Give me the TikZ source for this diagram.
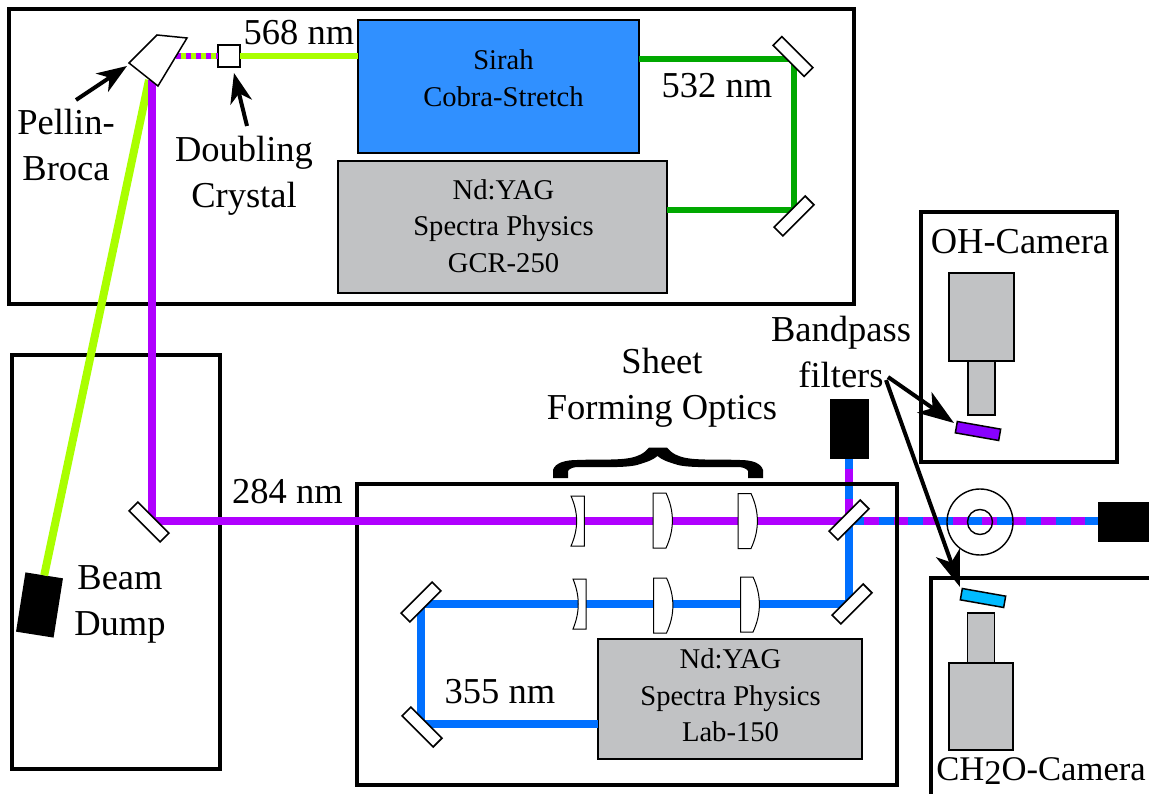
\documentclass[tikz,border=0pt]{standalone}
\usepackage{fontspec}
\setmainfont{Liberation Serif}
\usetikzlibrary{arrows.meta,shapes.geometric}
\definecolor{cpurple}{HTML}{B000FF}
\definecolor{cblue}{HTML}{0070FF}
\definecolor{cyellow}{HTML}{AAFF00}
\definecolor{cgreen}{HTML}{00A800}
\definecolor{cgrey}{HTML}{C1C2C4}
\definecolor{csirah}{HTML}{3090FF}
\definecolor{cfiltp}{HTML}{8800FF}
\definecolor{cfiltb}{HTML}{00BBFF}
\newcommand{\convexlens}[4]{% left x, mid x, apex x, top y
  \draw[lens] (#1,#4) -- (#2,#4) .. controls (#3,#4+18) and (#3,#4+37) .. (#2,#4+55) -- (#1,#4+55) -- cycle;}
\newcommand{\concavelens}[4]{% left x, right x, mid x, top y
  \draw[lens] (#1,#4) -- (#2,#4) -- (#2,#4+50) -- (#1,#4+50) .. controls (#3,#4+33) and (#3,#4+17) .. cycle;}
\tikzset{
  frame/.style={draw=black,line width=3.8pt,fill=none,inner sep=0pt,outer sep=0pt},
  mirror/.style={draw=black,line width=1.6pt,fill=white,minimum width=44pt,minimum height=12.5pt,inner sep=0pt,outer sep=0pt},
  gbox/.style={draw=black,line width=1.3pt,fill=cgrey,inner sep=0pt,outer sep=0pt},
  bluebox/.style={draw=black,line width=1.3pt,fill=csirah,inner sep=0pt,outer sep=0pt},
  dump/.style={fill=black,inner sep=0pt,outer sep=0pt},
  lens/.style={draw=black,line width=1pt,fill=white},
  filt/.style={draw=black,line width=1.5pt,minimum width=44pt,minimum height=11.5pt,inner sep=0pt,outer sep=0pt},
  beam/.style={line width=8.4pt},
  thin beam/.style={line width=5.8pt},
  bigtext/.style={font=\fontsize{36.5}{46}\selectfont,align=center,inner sep=0pt},
  smalltext/.style={font=\fontsize{28.6}{36.5}\selectfont,align=center,inner sep=0pt},
  pointer/.style={line width=4pt,-{Stealth[length=30pt,width=22pt,inset=9pt]}},
  long pointer/.style={line width=4pt,-{Stealth[length=36pt,width=25pt,inset=10pt]}},
  ring/.style={draw=black,line width=1.4pt,fill=none}
}
\begin{document}
\begin{tikzpicture}[x=1pt,y=-1pt]
\useasboundingbox (0,0) rectangle (1149,794);
\clip (0,0) rectangle (1149,794);

% anchor points of the beams
\coordinate (prismout) at (176,56);
\coordinate (prismdown) at (152,80);
\coordinate (prismyellow) at (149,80);
\coordinate (bend) at (152,521);
\coordinate (m284) at (849,521);
\coordinate (g1) at (794,59);
\coordinate (g2) at (794,210);
\coordinate (b1) at (421,724);
\coordinate (b2) at (421,604);
\coordinate (b3) at (849,604);
\coordinate (outbeam) at (1098,521);
\coordinate (upbeam) at (849,459);

% dashed beams lie under the frames
\draw[cpurple,beam] (m284) -- (outbeam);
\draw[cblue,beam,dash pattern=on 15pt off 14.5pt] (m284) -- (outbeam);
\draw[cpurple,beam] (m284) -- (upbeam);
\draw[cblue,beam,dash pattern=on 15pt off 15pt,dash phase=8pt] (m284) -- (upbeam);

% frames
\node[frame,minimum width=845pt,minimum height=295pt] (laserbox) at (431.5,156.5) {};
\node[frame,minimum width=208pt,minimum height=414pt] (dumpbox) at (116,562) {};
\node[frame,minimum width=540pt,minimum height=301pt] (labbox) at (627,634.5) {};
\node[frame,minimum width=196pt,minimum height=250pt] (ohbox) at (1019,337) {};
\node[frame,minimum width=240pt,minimum height=240pt,anchor=north west] (chbox) at (931,578) {};

% named equipment
\node[bluebox,minimum width=281pt,minimum height=133pt] (sirah) at (498.5,86.5) {};
\node[gbox,minimum width=329pt,minimum height=132pt] (gcr) at (502.5,227) {};
\node[gbox,minimum width=264pt,minimum height=120pt] (lab) at (730,699) {};
\node[dump,minimum width=39pt,minimum height=60pt] (dumpup) at (849,429) {};
\node[dump,minimum width=51pt,minimum height=40pt,anchor=west] (dumpright) at (1098,521.5) {};
\node[dump,minimum width=38pt,minimum height=60pt,rotate=-9] (dumpbeam) at (39.5,605) {};
\node[draw=black,line width=1.5pt,fill=white,minimum size=22pt,inner sep=0pt,outer sep=0pt] (crystal) at (229,56) {};

% beams
\draw[cyellow,thin beam] (crystal.east) -- (sirah.west |- crystal.east);
\draw[cyellow,thin beam] (prismout) -- (crystal.west);
\draw[cpurple,thin beam,dash pattern=on 5pt off 5pt] (prismout) -- (crystal.west);
\draw[cyellow,line width=8pt] (prismyellow) -- (dumpbeam.north);
\draw[cpurple,beam,line join=miter] (prismdown) -- (bend) -- (m284);
\draw[cgreen,thin beam,line join=miter] (sirah.east |- g1) -- (g1) -- (g2) -- (gcr.east |- g2);
\draw[cblue,beam,line join=miter] (lab.west |- b1) -- (b1) -- (b2) -- (b3) -- (m284);

% mirrors
\node[mirror,rotate=-45] (mtop) at (793,56.5) {};
\node[mirror,rotate=45] (mbot) at (794,216) {};
\node[mirror,rotate=-45] (mbend) at (149,522) {};
\node[mirror,rotate=45] (mdich) at (849,520) {};
\node[mirror,rotate=45] (mlow) at (852,604) {};
\node[mirror,rotate=45] (mtl) at (421,602) {};
\node[mirror,rotate=-45] (mbl) at (422,727) {};

% prism
\draw[draw=black,line width=1.5pt,fill=white,line join=miter] (157,35) -- (187,38) -- (158,86) -- (129,63) -- cycle;

% lenses
\concavelens{571}{584.3}{578.5}{496}
\convexlens{653}{666}{674.5}{493}
\convexlens{738}{751}{759.5}{493.5}
\concavelens{573}{586}{580}{579}
\convexlens{653.5}{666.5}{675}{578}
\convexlens{740.5}{753}{761.5}{577}

% iris
\node[ring,circle,minimum size=66pt,inner sep=0pt] (irisout) at (980,522) {};
\node[ring,circle,minimum size=25pt,inner sep=0pt] (irisin) at (980,522) {};

% cameras
\node[gbox,minimum width=65pt,minimum height=88pt] (ohbody) at (981.5,317) {};
\node[gbox,minimum width=27pt,minimum height=54pt,anchor=north] (ohlens) at (ohbody.south) {};
\node[gbox,minimum width=64pt,minimum height=87pt] (chbody) at (981,706.5) {};
\node[gbox,minimum width=27pt,minimum height=50pt,anchor=south] (chlens) at (chbody.north) {};

% filters
\node[filt,fill=cfiltp,rotate=-10] (fpurple) at (978,431) {};
\node[filt,fill=cfiltb,rotate=-10] (fblue) at (983,598) {};

% brace
\fill[black] (553,478) -- (553,470) .. controls (555,463) and (565,460) .. (577,460)
  .. controls (600,459) and (625,461) .. (637,456) .. controls (643,454) and (646,451) .. (649,447.5)
  -- (667,447.5) .. controls (670,451) and (673,454) .. (679,456)
  .. controls (691,461) and (716,459) .. (740,460)
  .. controls (752,460) and (761,463) .. (763,470) -- (763,478) -- (748,478) -- (748,471)
  .. controls (746,468) and (742,467) .. (737,467)
  .. controls (715,467) and (690,468) .. (678,465) .. controls (668,462) and (662,460) .. (657.5,456)
  .. controls (653,460) and (647,462) .. (637,465)
  .. controls (625,468) and (600,467) .. (579,467)
  .. controls (574,467) and (570,468) .. (568,471) -- (568,478) -- cycle;

% labels
\node[bigtext] (l568) at (299,33) {568 nm};
\node[bigtext] (l532) at (717,86) {532 nm};
\node[bigtext] (l284) at (287.5,492) {284 nm};
\node[bigtext] (l355) at (500,692) {355 nm};
\node[bigtext] (lpellin) at (66,145.5) {Pellin-\\Broca};
\node[bigtext] (ldoubling) at (244,175.5) {Doubling\\Crystal};
\node[bigtext] (lsheet) at (662,388) {Sheet\\Forming Optics};
\node[bigtext] (lband) at (841,352) {Bandpass\\filters};
\node[bigtext] (loh) at (1020,242) {OH-Camera};
\node[bigtext,font=\fontsize{34.6}{46}\selectfont] (lch) at (1041,771) {CH\raisebox{-4pt}{2}O-Camera};
\node[bigtext] (ldump) at (120,604) {Beam\\Dump};
\node[smalltext] (tsirah) at (503.5,78) {Sirah\\Cobra-Stretch};
\node[smalltext] (tgcr) at (503.5,226) {Nd:YAG\\Spectra Physics\\GCR-250};
\node[smalltext] (tlab) at (730.5,695.5) {Nd:YAG\\Spectra Physics\\Lab-150};

% pointers
\coordinate (pelltail) at (76,100);
\coordinate (pelltip) at (127,66);
\coordinate (dbltail) at (247,126);
\coordinate (dbltip) at (234,73);
\coordinate (bptail) at (888,377);
\coordinate (bptip1) at (954,423);
\coordinate (bptail2) at (886,380);
\coordinate (bptip2) at (960,587);
\draw[pointer] (pelltail) -- (pelltip);
\draw[pointer] (dbltail) -- (dbltip);
\draw[long pointer] (bptail) -- (bptip1);
\draw[long pointer] (bptail2) -- (bptip2);
\end{tikzpicture}
\end{document}
